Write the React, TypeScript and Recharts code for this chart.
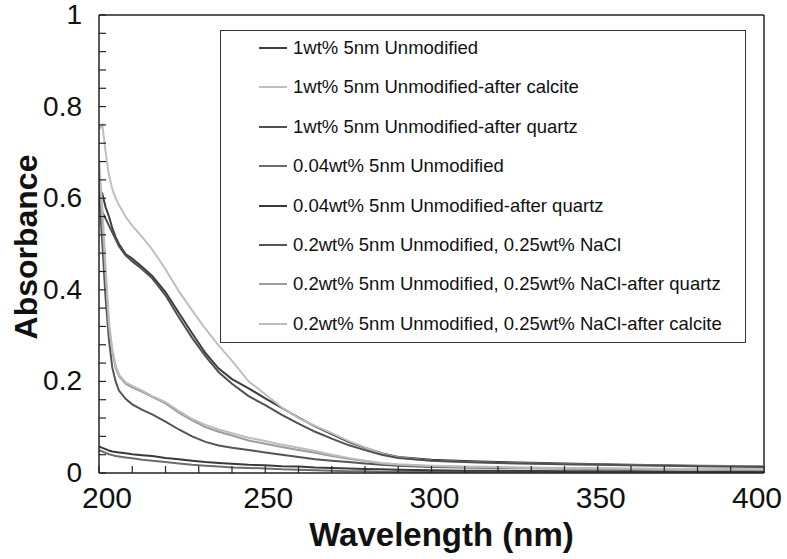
import React from 'react';
import { LineChart, Line, XAxis, YAxis, ReferenceLine, Legend, Label } from 'recharts';

const wavelengths = [200, 201, 202, 203, 204, 205, 206, 208, 210, 213, 216, 220, 224, 228, 232, 236, 240, 245, 250, 255, 260, 265, 270, 275, 280, 285, 290, 300, 310, 320, 340, 360, 380, 400];

const s1wtUnmodified = [0.62, 0.61, 0.58, 0.56, 0.535, 0.515, 0.5, 0.478, 0.468, 0.45, 0.43, 0.395, 0.35, 0.305, 0.262, 0.228, 0.205, 0.185, 0.163, 0.142, 0.121, 0.102, 0.085, 0.068, 0.055, 0.043, 0.035, 0.029, 0.026, 0.024, 0.021, 0.018, 0.016, 0.015];
const s1wtAfterCalcite = [0.75, 0.76, 0.7, 0.65, 0.62, 0.6, 0.585, 0.56, 0.54, 0.515, 0.488, 0.445, 0.397, 0.355, 0.315, 0.278, 0.245, 0.2, 0.172, 0.143, 0.12, 0.103, 0.087, 0.07, 0.056, 0.042, 0.034, 0.027, 0.024, 0.022, 0.019, 0.017, 0.015, 0.014];
const s1wtAfterQuartz = [0.6, 0.57, 0.555, 0.54, 0.525, 0.51, 0.495, 0.475, 0.462, 0.445, 0.425, 0.388, 0.34, 0.295, 0.255, 0.22, 0.195, 0.168, 0.148, 0.127, 0.108, 0.09, 0.075, 0.061, 0.05, 0.04, 0.033, 0.027, 0.024, 0.022, 0.019, 0.017, 0.015, 0.013];
const s004Unmodified = [0.05, 0.047, 0.044, 0.041, 0.039, 0.037, 0.036, 0.034, 0.032, 0.029, 0.027, 0.024, 0.021, 0.018, 0.016, 0.014, 0.012, 0.011, 0.01, 0.008, 0.007, 0.006, 0.005, 0.004, 0.004, 0.003, 0.003, 0.002, 0.002, 0.002, 0.002, 0.002, 0.002, 0.002];
const s004AfterQuartz = [0.058, 0.055, 0.052, 0.049, 0.047, 0.046, 0.045, 0.043, 0.041, 0.039, 0.037, 0.033, 0.03, 0.027, 0.024, 0.022, 0.02, 0.018, 0.017, 0.015, 0.014, 0.012, 0.011, 0.01, 0.009, 0.008, 0.007, 0.006, 0.005, 0.005, 0.004, 0.004, 0.003, 0.003];
const s02NaCl = [0.62, 0.5, 0.38, 0.29, 0.23, 0.2, 0.18, 0.162, 0.15, 0.138, 0.128, 0.112, 0.095, 0.08, 0.068, 0.06, 0.055, 0.05, 0.045, 0.04, 0.035, 0.03, 0.027, 0.024, 0.021, 0.018, 0.016, 0.013, 0.012, 0.011, 0.01, 0.009, 0.008, 0.007];
const s02NaClAfterQuartz = [0.65, 0.55, 0.43, 0.32, 0.265, 0.23, 0.212, 0.195, 0.187, 0.177, 0.166, 0.152, 0.132, 0.115, 0.1, 0.09, 0.082, 0.071, 0.064, 0.057, 0.05, 0.044, 0.037, 0.031, 0.026, 0.021, 0.018, 0.015, 0.013, 0.012, 0.01, 0.009, 0.008, 0.007];
const s02NaClAfterCalcite = [0.685, 0.58, 0.45, 0.33, 0.27, 0.235, 0.215, 0.198, 0.19, 0.18, 0.168, 0.155, 0.135, 0.118, 0.105, 0.095, 0.087, 0.077, 0.07, 0.062, 0.055, 0.048, 0.04, 0.033, 0.027, 0.022, 0.019, 0.016, 0.014, 0.013, 0.011, 0.01, 0.009, 0.008];

const seriesNames = [
  '1wt% 5nm Unmodified',
  '1wt% 5nm Unmodified-after calcite',
  '1wt% 5nm Unmodified-after quartz',
  '0.04wt% 5nm Unmodified',
  '0.04wt% 5nm Unmodified-after quartz',
  '0.2wt% 5nm Unmodified, 0.25wt% NaCl',
  '0.2wt% 5nm Unmodified, 0.25wt% NaCl-after quartz',
  '0.2wt% 5nm Unmodified, 0.25wt% NaCl-after calcite',
];
const seriesValues = [s1wtUnmodified, s1wtAfterCalcite, s1wtAfterQuartz, s004Unmodified, s004AfterQuartz, s02NaCl, s02NaClAfterQuartz, s02NaClAfterCalcite];
const seriesColors = ['#3e3e3e', '#bfbfbf', '#505050', '#6c6c6c', '#3a3a3a', '#555555', '#9c9c9c', '#bcbcbc'];

const xTicks = [200, 210, 220, 230, 240, 250, 260, 270, 280, 290, 300, 310, 320, 330, 340, 350, 360, 370, 380, 390, 400];
const xTickLabels = [200, 250, 300, 350, 400];
const yTicks = [0, 0.04, 0.08, 0.12, 0.16, 0.2, 0.24, 0.28, 0.32, 0.36, 0.4, 0.44, 0.48, 0.52, 0.56, 0.6, 0.64, 0.68, 0.72, 0.76, 0.8, 0.84, 0.88, 0.92, 0.96, 1];
const yTickLabels = [0, 0.2, 0.4, 0.6, 0.8, 1];

const data = wavelengths.map((w, i) => {
  const row: Record<string, number> = { wl: w };
  seriesValues.forEach((vals, k) => {
    row['s' + k] = vals[i];
  });
  return row;
});

const FONT = '"Liberation Sans", Arial, Helvetica, sans-serif';
const AXIS = '#222';

const XTick = (props: any) => {
  const { x, y, payload } = props;
  const v = payload.value;
  const major = xTickLabels.some((t) => Math.abs(t - v) < 1e-6);
  const first = Math.abs(v - xTickLabels[0]) < 1e-6;
  const last = Math.abs(v - xTickLabels[xTickLabels.length - 1]) < 1e-6;
  const shift = first ? 8 : last ? -7 : 3;
  return (
    <g>
      <line x1={x} x2={x} y1={y} y2={y - 7} stroke={AXIS} strokeWidth={1.2} />
      {major && (
        <text x={x + shift} y={y + 35} textAnchor="middle" fontSize={30} fill="#111" fontFamily={FONT}>
          {v}
        </text>
      )}
    </g>
  );
};

const YTick = (props: any) => {
  const { x, y, payload } = props;
  const v = payload.value;
  const major = yTickLabels.some((t) => Math.abs(t - v) < 1e-6);
  return (
    <g>
      <line x1={x} x2={x + 7} y1={y} y2={y} stroke={AXIS} strokeWidth={1.2} />
      {major && (
        <text x={x - 17} y={y + 9} textAnchor="end" fontSize={28} fill="#111" fontFamily={FONT}>
          {String(Math.round(v * 10) / 10)}
        </text>
      )}
    </g>
  );
};

const LegendBox = () => (
  <div
    style={{
      position: 'relative',
      width: 526,
      height: 313,
      boxSizing: 'border-box',
      border: '1.5px solid #333',
      background: '#fff',
      fontFamily: FONT,
    }}
  >
    {seriesNames.map((name, i) => (
      <div
        key={name}
        style={{
          position: 'absolute',
          left: 38,
          top: 17 + i * 39.4 - 11,
          height: 22,
          display: 'flex',
          alignItems: 'center',
          whiteSpace: 'nowrap',
        }}
      >
        <span style={{ display: 'inline-block', width: 28, height: 2, background: seriesColors[i], marginRight: 6 }} />
        <span style={{ fontSize: 18.5, color: '#111', lineHeight: '22px' }}>{name}</span>
      </div>
    ))}
  </div>
);

const YTitle = (props: any) => {
  const vb = props.viewBox || {};
  const cx = 26;
  const cy = (vb.y || 0) + (vb.height || 0) / 2 + 3;
  return (
    <text
      x={cx}
      y={cy}
      transform={`rotate(-90 ${cx} ${cy})`}
      textAnchor="middle"
      dominantBaseline="central"
      fontSize={32}
      fontWeight="bold"
      fill="#111"
      fontFamily={FONT}
    >
      Absorbance
    </text>
  );
};

const XTitle = (props: any) => {
  const vb = props.viewBox || {};
  const cx = (vb.x || 0) + (vb.width || 0) / 2 + 10;
  const cy = 546;
  return (
    <text x={cx} y={cy} textAnchor="middle" fontSize={33} fontWeight="bold" fill="#111" fontFamily={FONT}>
      Wavelength (nm)
    </text>
  );
};

export default function App() {
  return (
    <div style={{ position: 'absolute', left: 0, top: 0, width: 787, height: 559, background: '#fff', fontFamily: FONT }}>
      <LineChart width={787} height={559} data={data} margin={{ top: 15, right: 23, left: 0, bottom: 46 }}>
        <XAxis
          dataKey="wl"
          type="number"
          domain={[200, 400]}
          ticks={xTicks}
          interval={0}
          tickLine={false}
          tickSize={0}
          tickMargin={0}
          tick={<XTick />}
          axisLine={{ stroke: AXIS, strokeWidth: 1.5 }}
          height={40}
          allowDataOverflow
        >
          <Label content={<XTitle />} />
        </XAxis>
        <YAxis
          type="number"
          domain={[0, 1]}
          ticks={yTicks}
          interval={0}
          tickLine={false}
          tickSize={0}
          tickMargin={0}
          tick={<YTick />}
          axisLine={{ stroke: AXIS, strokeWidth: 1.5 }}
          width={99}
          allowDataOverflow
        >
          <Label content={<YTitle />} />
        </YAxis>
        <ReferenceLine y={1} stroke={AXIS} strokeWidth={1.5} />
        <ReferenceLine x={400} stroke={AXIS} strokeWidth={1.5} />
        {seriesNames.map((name, k) => (
          <Line
            key={name}
            type="linear"
            dataKey={'s' + k}
            name={name}
            stroke={seriesColors[k]}
            strokeWidth={2}
            dot={false}
            activeDot={false}
            isAnimationActive={false}
          />
        ))}
        <Legend
          layout="vertical"
          align="center"
          verticalAlign="middle"
          content={<LegendBox />}
          wrapperStyle={{ left: 220, top: 30, width: 526, height: 313 }}
        />
      </LineChart>
    </div>
  );
}
